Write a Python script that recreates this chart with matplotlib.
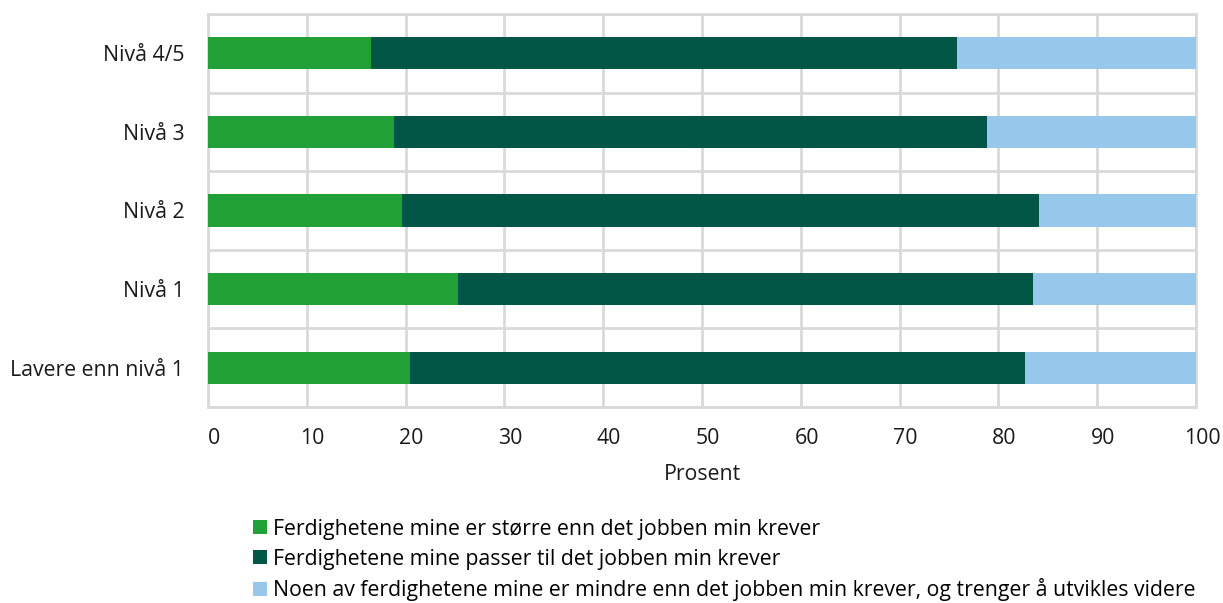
import matplotlib.pyplot as plt
import matplotlib.transforms as mtransforms
import numpy as np

plt.rcParams['font.family'] = ['Open Sans', 'DejaVu Sans']

categories = ["Lavere enn nivå 1", "Nivå 1", "Nivå 2", "Nivå 3", "Nivå 4/5"]
storre = [20.5, 25.3, 19.6, 18.8, 16.5]
passer = [62.2, 58.2, 64.5, 60.0, 59.3]
mindre = [17.3, 16.5, 15.9, 21.2, 24.2]
series_labels = [
    "Ferdighetene mine er større enn det jobben min krever",
    "Ferdighetene mine passer til det jobben min krever",
    "Noen av ferdighetene mine er mindre enn det jobben min krever, og trenger å utvikles videre",
]
colors = ["#22A038", "#025645", "#97C7EB"]
grid_c = "#D9D9D9"
txt_c = "#1a1a1a"
fs = 15.3

fig = plt.figure(figsize=(12.23, 6.03), dpi=100)
ax = fig.add_axes([0.170, 0.325, 0.808, 0.652])

y = np.arange(len(categories))
left = np.zeros(len(categories))
for vals, lab, c in zip([storre, passer, mindre], series_labels, colors):
    ax.barh(y, vals, left=left, height=0.41, color=c, label=lab, zorder=3)
    left += np.array(vals)

ax.set_xlim(0, 100)
ax.set_ylim(-0.5, len(categories) - 0.5)
ax.set_xticks(np.arange(0, 101, 10))
ax.set_yticks(y)
ax.set_yticklabels(categories)
ax.set_yticks(np.arange(-0.5, len(categories), 1), minor=True)
ax.grid(axis='x', which='major', color=grid_c, linewidth=2, zorder=0)
ax.grid(axis='y', which='minor', color=grid_c, linewidth=2, zorder=0)
ax.tick_params(which='both', length=0)
ax.tick_params(axis='x', pad=15, labelsize=fs, labelcolor=txt_c)
ax.tick_params(axis='y', pad=17, labelsize=fs, labelcolor=txt_c)
for s in ax.spines.values():
    s.set_color(grid_c)
    s.set_linewidth(2)

offset = mtransforms.ScaledTranslation(6 / 100, 0, fig.dpi_scale_trans)
for lbl in ax.get_xticklabels():
    lbl.set_transform(lbl.get_transform() + offset)

ax.set_xlabel("Prosent", fontsize=fs, color=txt_c, labelpad=11)

fig.legend(loc='upper left', bbox_to_anchor=(0.207, 0.140), frameon=False,
           fontsize=fs, handlelength=0.65, handleheight=0.65, handletextpad=0.3,
           labelspacing=0.42, borderpad=0, borderaxespad=0)

fig.savefig("out.png", dpi=100)
